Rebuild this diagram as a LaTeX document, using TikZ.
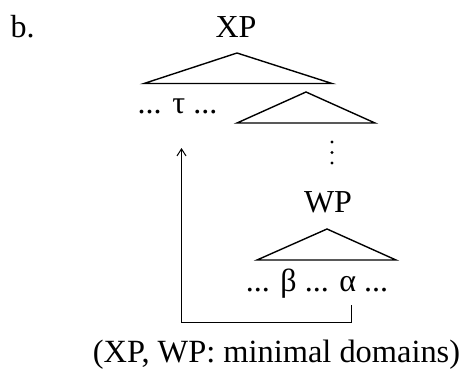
\documentclass[tikz,border=0pt]{standalone}
\usepackage{fontspec}
\setmainfont{Liberation Serif}
\usetikzlibrary{arrows.meta}
\begin{document}
\begin{tikzpicture}[x=1pt,y=-1pt,
  lbl/.style={inner sep=0pt,anchor=base,font=\fontsize{32}{38}\selectfont},
  tri/.style={line width=1.4pt,line join=miter},
  conn/.style={line width=1pt},
  dotmark/.style={circle,fill=black,inner sep=0pt,minimum size=3.4pt}]
\useasboundingbox (0,0) rectangle (465,370);
\node[lbl] (b) at (22.5,37) {b.};
\node[lbl] (xp) at (236,37) {XP};
\coordinate (t1a) at (237,53);
\coordinate (t1l) at (144,83.5);
\coordinate (t1r) at (332,83.5);
\draw[tri] (t1l) -- (t1a) -- (t1r) -- cycle;
\node[lbl] (tau) at (177.5,113) {... τ ...};
\coordinate (t2a) at (306,92);
\coordinate (t2l) at (237,123);
\coordinate (t2r) at (375,123);
\draw[tri] (t2l) -- (t2a) -- (t2r) -- cycle;
\node[dotmark] (d1) at (332,142) {};
\node[dotmark] (d2) at (332,152.5) {};
\node[dotmark] (d3) at (332,163) {};
\node[lbl] (wp) at (328,212) {WP};
\coordinate (t3a) at (327,229);
\coordinate (t3l) at (257,260);
\coordinate (t3r) at (396,260);
\draw[tri] (t3l) -- (t3a) -- (t3r) -- cycle;
\node[lbl] (ba) at (317,291) {... β ... α ...};
\coordinate (alpha) at (351,305);
\coordinate (corner) at (181.5,322.5);
\coordinate (tip) at (181.5,148);
\draw[conn,-{Straight Barb[length=7pt,width=9pt]}] (alpha) |- (corner) -- (tip);
\node[lbl,font=\fontsize{32.4}{38}\selectfont] (cap) at (276.5,362) {(XP, WP: minimal domains)};
\end{tikzpicture}
\end{document}
